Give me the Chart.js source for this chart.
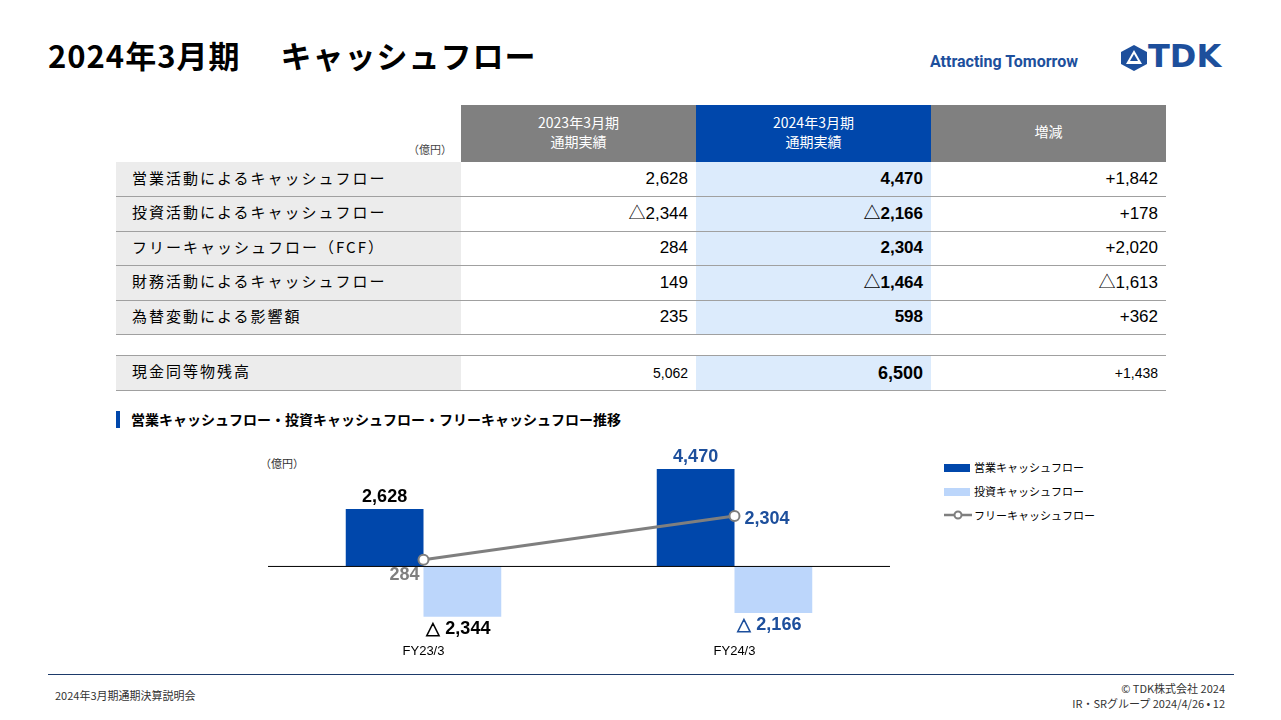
<!DOCTYPE html>
<html><head><meta charset="utf-8">
<script src="https://cdn.jsdelivr.net/npm/chart.js@4"></script>
<style>
body{margin:0;width:1281px;height:720px;position:relative;background:#fff;font-family:"Noto Sans CJK JP","Noto Sans",sans-serif;overflow:hidden}
.a{position:absolute;white-space:nowrap}
table{position:absolute;left:116px;top:105px;border-collapse:collapse;table-layout:fixed;width:1050px;font-family:Arial,"Liberation Sans","Noto Sans CJK JP",sans-serif}
td{height:34.5px;box-sizing:border-box;padding:0 8px;font-size:17px;border-bottom:1px solid #a0a0a0;color:#000;line-height:20px}
td.l{background:#ececec;font-family:"Noto Sans CJK JP";font-size:15px;letter-spacing:2px;padding-left:16px;padding-top:0;padding-bottom:3px}
td.n{text-align:right}
td.b{background:#dcebfc;font-weight:bold}
th{height:57px;box-sizing:border-box;color:#fff;font-weight:normal;font-size:14px;line-height:19px;font-family:"Noto Sans CJK JP";padding:0 0 4px 0}
</style></head><body>
<div class="a" style="left:48px;top:32px;font-size:31px;font-weight:bold;font-family:'Noto Sans CJK JP';letter-spacing:1px">2024年3月期　 キャッシュフロー</div>
<div class="a" style="left:930px;top:52px;font-size:16px;font-weight:bold;color:#1d4f9c;font-family:Roboto">Attracting Tomorrow</div>
<svg class="a" style="left:1119px;top:44px" width="30" height="28" viewBox="0 0 30 28"><polygon points="15,1 28,8 28,20 15,27 2,20 2,8" fill="#1d4f9c"/><polygon points="15,6 23,20 7,20" fill="#fff"/><polygon points="15,10 19,17 11,17" fill="#1d4f9c"/></svg>
<div class="a" style="left:1148px;top:37px;font-size:32px;font-weight:900;color:#1d4f9c;font-family:'DejaVu Sans'">TDK</div>
<table id="t"></table>
<div class="a" style="left:408px;top:141px;font-size:11px;color:#444">（億円）</div>
<div class="a" style="left:116px;top:411px;width:4px;height:17px;background:#0047ab"></div>
<div class="a" style="left:131px;top:409px;font-size:14px;font-weight:bold">営業キャッシュフロー・投資キャッシュフロー・フリーキャッシュフロー推移</div>
<div class="a" style="left:260px;top:455px;font-size:11px;color:#333">（億円）</div>
<div class="a" style="left:944px;top:464px;width:26px;height:8px;background:#0047ab"></div>
<div class="a" style="left:974px;top:459px;font-size:11px">営業キャッシュフロー</div>
<div class="a" style="left:944px;top:488px;width:26px;height:8px;background:#bcd6fb"></div>
<div class="a" style="left:974px;top:483px;font-size:11px">投資キャッシュフロー</div>
<svg class="a" style="left:943px;top:509px" width="30" height="12"><line x1="1" y1="6" x2="29" y2="6" stroke="#7f7f7f" stroke-width="2.5"/><circle cx="15" cy="6" r="3.5" fill="#fff" stroke="#7f7f7f" stroke-width="2"/></svg>
<div class="a" style="left:974px;top:507px;font-size:11px">フリーキャッシュフロー</div>
<div class="a" style="left:200px;top:440px;width:720px;height:230px"><canvas id="c"></canvas></div>
<div class="a" style="left:48px;top:674px;width:1186px;height:1px;background:#1d3a6a"></div>
<div class="a" style="left:55px;top:687px;font-size:11px;color:#333">2024年3月期通期決算説明会</div>
<div class="a" style="right:56px;top:680px;font-size:11px;color:#333">© TDK株式会社 2024</div>
<div class="a" style="right:56px;top:695px;font-size:11px;color:#333">IR・SRグループ  2024/4/26 • 12</div>
<script>
const rowLabels=["営業活動によるキャッシュフロー","投資活動によるキャッシュフロー","フリーキャッシュフロー（FCF）","財務活動によるキャッシュフロー","為替変動による影響額"];
const fy23Col=["2,628","△2,344","284","149","235"];
const fy24Col=["4,470","△2,166","2,304","△1,464","598"];
const diffCol=["+1,842","+178","+2,020","△1,613","+362"];
const cashRow=["現金同等物残高","5,062","6,500","+1,438"];
let h='<colgroup><col style="width:345px"><col style="width:235px"><col style="width:235px"><col style="width:235px"></colgroup>';
h+='<tr><th style="background:transparent"></th><th style="background:#808080">2023年3月期<br>通期実績</th><th style="background:#0047ab">2024年3月期<br>通期実績</th><th style="background:#808080">増減</th></tr>';
rowLabels.forEach((l,i)=>{h+=`<tr><td class="l">${l}</td><td class="n">${fy23Col[i]}</td><td class="n b">${fy24Col[i]}</td><td class="n">${diffCol[i]}</td></tr>`});
h+='<tr><td colspan=4 style="height:21px;border-bottom:1px solid #a0a0a0;background:#fff"></td></tr>';
h+=`<tr><td class="l">${cashRow[0]}</td><td class="n" style="font-size:14px">${cashRow[1]}</td><td class="n b" style="font-size:18px">${cashRow[2]}</td><td class="n" style="font-size:14px">${cashRow[3]}</td></tr>`;
document.getElementById('t').innerHTML=h;

const categories=["FY23/3","FY24/3"];
const operatingCF=[2628,4470];
const investingCF=[-2344,-2166];
const freeCF=[284,2304];
const opLabels=["2,628","4,470"];
const invLabels=["△ 2,344","△ 2,166"];
const fcfLabels=["284","2,304"];

const lbl={id:'lbl',afterDatasetsDraw(c){
 const x=c.ctx;x.save();x.textAlign='center';
 const m0=c.getDatasetMeta(0),m1=c.getDatasetMeta(1),m2=c.getDatasetMeta(2);
 const bf='bold 18px Arial, "Liberation Sans"';
 const cols=['#000','#1d4f9c'];
 [0,1].forEach(i=>{
  x.font=bf;x.fillStyle=cols[i];x.textBaseline='bottom';
  x.fillText(opLabels[i],m0.data[i].x,m0.data[i].y-3);
  x.textBaseline='top';x.textAlign='center';
  x.fillText(invLabels[i],m1.data[i].x-4,m1.data[i].y+3);
  x.textBaseline='middle';
  if(i==0){x.fillStyle='#7f7f7f';x.fillText(fcfLabels[i],m2.data[i].x-19,m2.data[i].y+15);}
  else{x.textAlign='left';x.fillText(fcfLabels[i],m2.data[i].x+10,m2.data[i].y+3);x.textAlign='center';}
  x.font='13px Arial, "Liberation Sans"';x.fillStyle='#000';x.textBaseline='middle';
  x.fillText(categories[i],m2.data[i].x,c.chartArea.bottom+20);
 });
 const y0=c.scales.y.getPixelForValue(0);
 x.strokeStyle='#000';x.lineWidth=1;x.beginPath();x.moveTo(c.chartArea.left,y0+0.5);x.lineTo(c.chartArea.right,y0+0.5);x.stroke();
 x.restore();
}};
new Chart(document.getElementById('c'),{
 data:{labels:categories,datasets:[
  {type:'bar',data:operatingCF,backgroundColor:'#0047ab',barPercentage:1,categoryPercentage:0.5,order:2},
  {type:'bar',data:investingCF,backgroundColor:'#bcd6fb',barPercentage:1,categoryPercentage:0.5,order:2},
  {type:'line',data:freeCF,borderColor:'#7f7f7f',borderWidth:3,pointRadius:5,pointBackgroundColor:'#fff',pointBorderColor:'#7f7f7f',pointBorderWidth:2,order:1}
 ]},
 options:{responsive:true,maintainAspectRatio:false,animation:false,
  layout:{padding:{left:68,right:30,top:17.5,bottom:39}},
  plugins:{legend:{display:false},tooltip:{enabled:false}},
  scales:{x:{display:false},y:{display:false,min:-3000,max:5000}}},
 plugins:[lbl]
});
</script></body></html>
